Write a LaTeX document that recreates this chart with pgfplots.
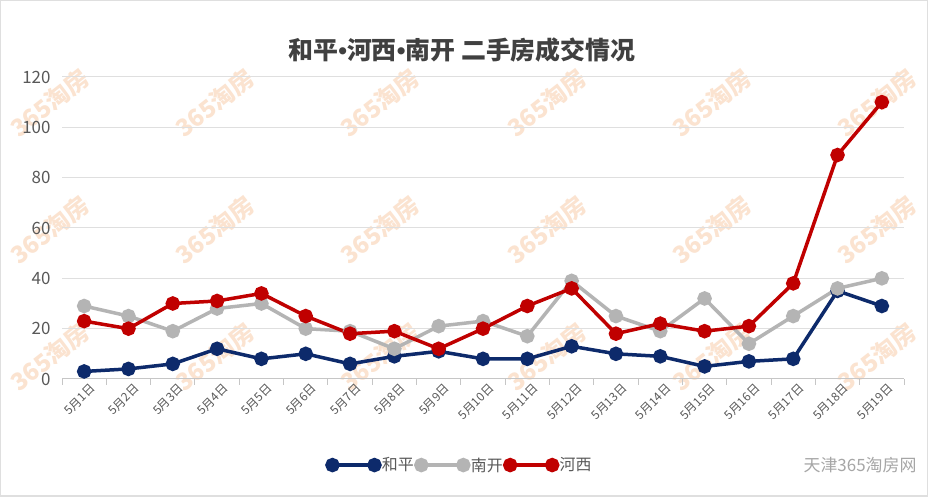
\documentclass[border=0pt]{standalone}
\usepackage{fontspec}
\setmainfont{Noto Sans CJK SC}
\newfontfamily\latinfont{Liberation Sans}
\usepackage{pgfplots}
\pgfplotsset{compat=1.18}
\definecolor{hp}{HTML}{0D2A6B}
\definecolor{nk}{HTML}{B4B4B4}
\definecolor{hx}{HTML}{C00000}
\definecolor{wm}{HTML}{FBE3D0}
\definecolor{tk}{HTML}{595959}
\begin{document}
\begin{tikzpicture}[x=1bp,y=1bp]
\path[fill=white, draw=gray!25, line width=1.5bp] (0.75,0.75) rectangle (927.25,496.25);
% watermarks
\foreach \wx in {50,215,380,547,712,877}{
  \foreach \wy in {103,230,357}{
    \node[rotate=38,text=wm,font=\fontsize{24}{24}\selectfont\bfseries] at (\wx,497-\wy) {365淘房};
  }
}
\begin{axis}[
  at={(62bp,118bp)}, anchor=south west,
  scale only axis, width=842bp, height=302bp,
  xmin=-0.5, xmax=18.5, ymin=0, ymax=120,
  ytick={0,20,...,120},
  xtick={0,...,18},
  xticklabels={5月1日,5月2日,5月3日,5月4日,5月5日,5月6日,5月7日,5月8日,5月9日,5月10日,5月11日,5月12日,5月13日,5月14日,5月15日,5月16日,5月17日,5月18日,5月19日},
  minor xtick={-0.5,0.5,...,18.5},
  axis x line*=bottom, axis y line*=left,
  axis line style={-},
  y axis line style={draw=none},
  x axis line style={draw=gray!45, line width=1bp},
  major tick length=0pt,
  minor tick length=6bp,
  tick align=outside,
  minor x tick style={draw=gray!45, line width=1bp},
  ymajorgrids, grid style={draw=gray!25, line width=1bp},
  /pgf/number format/assume math mode=true,
  y tick label style={font=\fontsize{17}{17}\selectfont, text=tk},
  x tick label style={rotate=45, anchor=north east, font=\fontsize{12}{12}\selectfont, text=tk, inner sep=1bp, yshift=-5bp, xshift=2bp},
  yticklabel style={xshift=-8bp},
  every axis plot/.append style={line width=3.5bp, mark=*, mark size=5.5bp},
  legend columns=3,
  legend style={at={(0.473,-0.285)}, anchor=center, draw=none, fill=none, font=\fontsize{16}{16}\selectfont\color{tk}, column sep=0bp, inner sep=0bp},
  legend image code/.code={\draw plot coordinates {(0bp,0bp) (42bp,0bp)};},
]
\addplot[color=hp] coordinates {(0,3) (1,4) (2,6) (3,12) (4,8) (5,10) (6,6) (7,9) (8,11) (9,8) (10,8) (11,13) (12,10) (13,9) (14,5) (15,7) (16,8) (17,35) (18,29)};
\addlegendentry{和平}
\addplot[color=nk] coordinates {(0,29) (1,25) (2,19) (3,28) (4,30) (5,20) (6,19) (7,12) (8,21) (9,23) (10,17) (11,39) (12,25) (13,19) (14,32) (15,14) (16,25) (17,36) (18,40)};
\addlegendentry{南开}
\addplot[color=hx] coordinates {(0,23) (1,20) (2,30) (3,31) (4,34) (5,25) (6,18) (7,19) (8,12) (9,20) (10,29) (11,36) (12,18) (13,22) (14,19) (15,21) (16,38) (17,89) (18,110)};
\addlegendentry{河西}
\end{axis}
\node[font=\fontsize{25}{25}\selectfont\bfseries, text=black!75, inner sep=0pt] at (462,497-50) {和平{\latinfont\bfseries •}河西{\latinfont\bfseries •}南开 二手房成交情况};
\node[font=\fontsize{17}{17}\selectfont, text=gray!70, anchor=east] at (920,497-465) {天津365淘房网};
\end{tikzpicture}
\end{document}
